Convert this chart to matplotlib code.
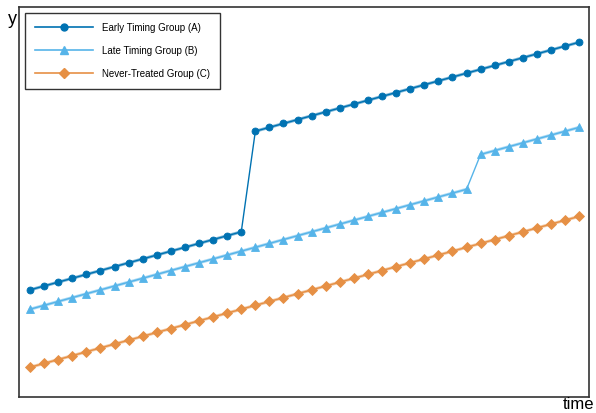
import matplotlib
matplotlib.use("Agg")
import matplotlib.pyplot as plt
from matplotlib.lines import Line2D

plt.rcParams["font.family"] = ["Liberation Sans", "DejaVu Sans"]

time = list(range(40))

early_a = [20, 21, 22, 23, 24, 25, 26, 27, 28, 29, 30, 31, 32, 33, 34, 35,
           61, 62, 63, 64, 65, 66, 67, 68, 69, 70, 71, 72, 73, 74, 75, 76,
           77, 78, 79, 80, 81, 82, 83, 84]
late_b = [15, 16, 17, 18, 19, 20, 21, 22, 23, 24, 25, 26, 27, 28, 29, 30,
          31, 32, 33, 34, 35, 36, 37, 38, 39, 40, 41, 42, 43, 44, 45, 46,
          55, 56, 57, 58, 59, 60, 61, 62]
never_c = [0, 1, 2, 3, 4, 5, 6, 7, 8, 9, 10, 11, 12, 13, 14, 15,
           16, 17, 18, 19, 20, 21, 22, 23, 24, 25, 26, 27, 28, 29, 30, 31,
           32, 33, 34, 35, 36, 37, 38, 39]

# first treated period for each group (None = never treated)
treat_start = [16, 32, None]

labels = ["Early Timing Group (A)", "Late Timing Group (B)", "Never-Treated Group (C)"]
colors = ["#0072B2", "#56B4E9", "#E69045"]
markers = ["o", "^", "D"]
sizes = [5, 6, 4.6]

fig = plt.figure(figsize=(5.96, 4.13), dpi=100)
ax = fig.add_axes([0.0327, 0.0395, 0.9561, 0.9435])

handles = []
for y, start, lab, col, mk, ms in zip([early_a, late_b, never_c], treat_start,
                                      labels, colors, markers, sizes):
    # thin line through the whole series
    ax.plot(time, y, color=col, lw=1.0, zorder=2)
    # heavier translucent segments before / after treatment
    segments = [(0, len(time))] if start is None else [(0, start), (start, len(time))]
    for a, b in segments:
        ax.plot(time[a:b], y[a:b], color=col, lw=2.2, alpha=0.5, zorder=2,
                solid_capstyle="round")
    ax.plot(time, y, ls="none", marker=mk, ms=ms, color=col,
            markeredgewidth=0.6, zorder=3)
    handles.append(Line2D([], [], color=col, lw=1.2, marker=mk, ms=ms, label=lab))

ax.set_xlim(-0.75, 39.72)
ax.set_ylim(-7.6, 93.1)
ax.set_xticks([])
ax.set_yticks([])
for s in ax.spines.values():
    s.set_color("#333333")
    s.set_linewidth(1.2)

fig.text(0.013, 0.953, "y", fontsize=13, ha="left", va="center")
fig.text(0.997, 0.002, "time", fontsize=12, ha="right", va="bottom")

leg = ax.legend(handles=handles, loc="upper left", fontsize=7, handlelength=6.0,
                handletextpad=0.9, labelspacing=1.35, borderpad=1.0,
                borderaxespad=0.6, fancybox=False, edgecolor="#333333",
                framealpha=1)
leg.get_frame().set_linewidth(1.0)

fig.savefig("out.png", dpi=100)
